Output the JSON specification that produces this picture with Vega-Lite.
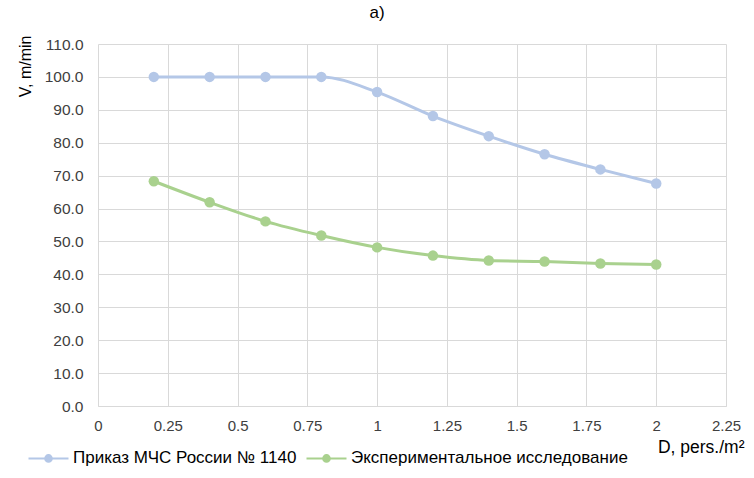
{
  "$schema": "https://vega.github.io/schema/vega-lite/v6.json",
  "width": 628,
  "height": 362,
  "autosize": {"type": "none"},
  "padding": {"left": 98, "top": 44, "right": 28, "bottom": 72},
  "background": "white",
  "config": {
    "font": "Liberation Sans",
    "view": {"stroke": null},
    "axis": {"gridColor": "#d9d9d9", "gridWidth": 1, "labelColor": "#404040", "titleColor": "#000000", "titleFontWeight": "normal"}
  },
  "title": {
    "text": "a)",
    "fontSize": 17,
    "fontWeight": "normal",
    "color": "#000000",
    "anchor": "middle",
    "dx": -35,
    "offset": 13
  },
  "data": {
    "values": [
      {"series": "Приказ МЧС России № 1140", "D": 0.2, "V": 100.0},
      {"series": "Приказ МЧС России № 1140", "D": 0.4, "V": 100.0},
      {"series": "Приказ МЧС России № 1140", "D": 0.6, "V": 100.0},
      {"series": "Приказ МЧС России № 1140", "D": 0.8, "V": 100.0},
      {"series": "Приказ МЧС России № 1140", "D": 1.0, "V": 95.4},
      {"series": "Приказ МЧС России № 1140", "D": 1.2, "V": 88.1},
      {"series": "Приказ МЧС России № 1140", "D": 1.4, "V": 82.0},
      {"series": "Приказ МЧС России № 1140", "D": 1.6, "V": 76.5},
      {"series": "Приказ МЧС России № 1140", "D": 1.8, "V": 71.9},
      {"series": "Приказ МЧС России № 1140", "D": 2.0, "V": 67.6},
      {"series": "Экспериментальное исследование", "D": 0.2, "V": 68.3},
      {"series": "Экспериментальное исследование", "D": 0.4, "V": 61.9},
      {"series": "Экспериментальное исследование", "D": 0.6, "V": 56.1},
      {"series": "Экспериментальное исследование", "D": 0.8, "V": 51.8},
      {"series": "Экспериментальное исследование", "D": 1.0, "V": 48.2},
      {"series": "Экспериментальное исследование", "D": 1.2, "V": 45.7},
      {"series": "Экспериментальное исследование", "D": 1.4, "V": 44.2},
      {"series": "Экспериментальное исследование", "D": 1.6, "V": 43.9},
      {"series": "Экспериментальное исследование", "D": 1.8, "V": 43.3},
      {"series": "Экспериментальное исследование", "D": 2.0, "V": 43.0}
    ]
  },
  "mark": {
    "type": "line",
    "interpolate": "monotone",
    "strokeWidth": 3,
    "point": {"filled": true, "size": 110, "opacity": 1}
  },
  "encoding": {
    "x": {
      "field": "D",
      "type": "quantitative",
      "scale": {"domain": [0, 2.25], "nice": false},
      "axis": {
        "values": [0, 0.25, 0.5, 0.75, 1, 1.25, 1.5, 1.75, 2, 2.25],
        "labelExpr": "toString(datum.value)",
        "title": "D, pers./m²",
        "titleFontSize": 17.5,
        "titleX": 646,
        "titleY": 46,
        "titleAlign": "right",
        "titleBaseline": "alphabetic",
        "ticks": false,
        "labelFontSize": 15,
        "labelPadding": 12,
        "labelBaseline": "top",
        "domainColor": "#d9d9d9",
        "labelFlush": false
      }
    },
    "y": {
      "field": "V",
      "type": "quantitative",
      "scale": {"domain": [0, 110], "nice": false},
      "axis": {
        "values": [0, 10, 20, 30, 40, 50, 60, 70, 80, 90, 100, 110],
        "format": ".1f",
        "title": "V, m/min",
        "titleFontSize": 16,
        "titleAngle": -90,
        "titleX": -73,
        "titleY": -9,
        "titleAlign": "right",
        "titleBaseline": "middle",
        "ticks": false,
        "domain": false,
        "labelFontSize": 15.5,
        "labelPadding": 15
      }
    },
    "color": {
      "field": "series",
      "type": "nominal",
      "scale": {
        "domain": ["Приказ МЧС России № 1140", "Экспериментальное исследование"],
        "range": ["#b4c7e7", "#a9d18e"]
      },
      "legend": {
        "title": null,
        "orient": "none",
        "direction": "horizontal",
        "legendX": -64,
        "legendY": 399.7,
        "padding": 0,
        "symbolType": "M-1.5,0H1.5M0.25,0A0.25,0.25,0,1,1,-0.25,0A0.25,0.25,0,1,1,0.25,0",
        "symbolSize": 711,
        "symbolStrokeWidth": 2,
        "symbolOpacity": 1,
        "labelFontSize": 17,
        "labelColor": "#000000",
        "labelLimit": 0,
        "labelOffset": 10,
        "columnPadding": 5
      }
    }
  }
}
